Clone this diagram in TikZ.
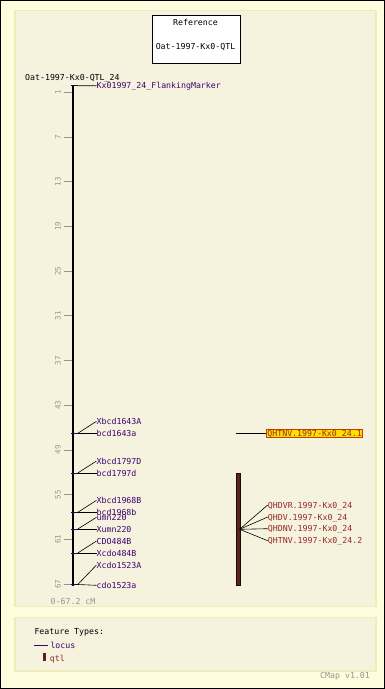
\documentclass[tikz,border=0pt]{standalone}
\usepackage{fontspec}
\newfontfamily\pix{DejaVu Sans Mono}
\definecolor{outerbg}{RGB}{255,253,222}
\definecolor{panelbg}{RGB}{245,243,222}
\definecolor{panelline}{RGB}{240,236,185}
\definecolor{locuscol}{RGB}{64,0,112}
\definecolor{qtlcol}{RGB}{150,40,40}
\definecolor{qtlbar}{RGB}{94,33,33}
\definecolor{tickgray}{RGB}{150,150,140}
\definecolor{hilite}{RGB}{255,225,0}
\definecolor{hiliteline}{RGB}{200,60,0}
\begin{document}
\begin{tikzpicture}[x=1pt,y=-1pt,
  every node/.style={font=\pix\fontsize{8.25}{9}\selectfont, inner sep=0pt, text height=6pt, text depth=0pt},
  panel/.style={fill=panelbg, draw=panelline, line width=1.5pt},
  loclab/.style={anchor=west, text=locuscol},
  qtllab/.style={anchor=west, text=qtlcol},
  axlab/.style={text=tickgray, rotate=90, font=\pix\fontsize{7.5}{9}\selectfont},
  tickline/.style={draw=tickgray, line width=0.8pt},
  mktick/.style={draw=locuscol!60!black, line width=0.8pt},
  conn/.style={draw=black, line width=0.6pt},
  greytext/.style={text=tickgray, anchor=west}]
\useasboundingbox (0,0) rectangle (385,689);
\fill[outerbg] (0,0) rectangle (385,689);
\draw[black, line width=1pt] (0.5,0.5) rectangle (384.5,688.5);
% panels
\draw[panel] (15,10.5) rectangle (376,606.5);
\draw[panel] (15,617.5) rectangle (376,671);
% reference box
\node[draw=black, line width=0.8pt, fill=white, minimum width=88pt, minimum height=48pt, anchor=north west] (refbox) at (151.5,14.5) {};
\node (reftitle) at (195.5,22.5) {Reference};
\node (refname) at (195.5,46) {Oat-1997-Kx0-QTL};
% map title
\node[anchor=west] (maptitle) at (25,77.5) {Oat-1997-Kx0-QTL\_24};
% axis
\coordinate (axtop) at (73.3,86);
\coordinate (axbot) at (73.3,585.5);
\draw[black, line width=2.2pt] (axtop) -- (axbot);
\foreach \v in {1,7,...,67} {
  \pgfmathsetmacro\yy{84.85+\v*7.45}
  \draw[tickline] (63.5,\yy) -- (71.8,\yy);
  \node[axlab] (tk\v) at (57.5,\yy) {\v};
}
\node[greytext] (range) at (50.5,601) {0-67.2 cM};
% markers
\newcommand\mkr[2]{%
  \draw[mktick] (70.5,#2) -- (77.5,#2);
  \coordinate (#1) at (77.8,#2);}
\mkr{m0}{85.8}
\mkr{m1}{433.3}
\mkr{m2}{473}
\mkr{m3}{512.3}
\mkr{m4}{529}
\mkr{m5}{553}
\mkr{m6}{584.5}
\node[loclab] (l0) at (96.5,85.7) {Kx01997\_24\_FlankingMarker};
\node[loclab] (l1a) at (96.5,421.3) {Xbcd1643A};
\node[loclab] (l1b) at (96.5,433.3) {bcd1643a};
\node[loclab] (l2a) at (96.5,461) {Xbcd1797D};
\node[loclab] (l2b) at (96.5,473) {bcd1797d};
\node[loclab] (l3a) at (96.5,500.3) {Xbcd1968B};
\node[loclab] (l3b) at (96.5,512.3) {bcd1968b};
\node[loclab] (l4a) at (96.5,517.3) {umn220};
\node[loclab] (l4b) at (96.5,529) {Xumn220};
\node[loclab] (l5a) at (96.5,541) {CDO484B};
\node[loclab] (l5b) at (96.5,553) {Xcdo484B};
\node[loclab] (l6a) at (96.5,565) {Xcdo1523A};
\node[loclab] (l6b) at (96.5,585.3) {cdo1523a};
\draw[conn] (m0) -- (l0.west);
\foreach \m/\a/\b in {m1/l1a/l1b, m2/l2a/l2b, m3/l3a/l3b, m4/l4a/l4b, m5/l5a/l5b, m6/l6a/l6b} {
  \draw[conn] (\m) -- (\a.west);
  \draw[conn] (\m) -- (\b.west);
}
% highlighted qtl
\coordinate (hq) at (236,433.3);
\node[anchor=west, fill=hilite, draw=hiliteline, line width=0.8pt, text=qtlcol, inner xsep=1pt, inner ysep=1pt] (h1) at (266,433.3) {QHTNV.1997-Kx0\_24.1};
\draw[conn] (hq) -- (h1.west);
% qtl bar
\node[fill=qtlbar, draw=black!70!qtlbar, line width=0.5pt, minimum width=4pt, minimum height=112pt, anchor=north west] (qbar) at (236,473.3) {};
\coordinate (qfan) at (239.6,529.3);
\node[qtllab] (q1) at (267.7,505) {QHDVR.1997-Kx0\_24};
\node[qtllab] (q2) at (267.7,517) {QHDV.1997-Kx0\_24};
\node[qtllab] (q3) at (267.7,528.7) {QHDNV.1997-Kx0\_24};
\node[qtllab] (q4) at (267.7,540.7) {QHTNV.1997-Kx0\_24.2};
\foreach \q in {q1,q2,q3,q4} { \draw[conn] (qfan) -- (\q.west); }
% legend
\node[anchor=west] (ft) at (34.3,631.7) {Feature Types:};
\coordinate (lg1) at (34.3,645);
\coordinate (lg2) at (47.5,645);
\draw[draw=locuscol, line width=0.8pt] (lg1) -- (lg2);
\node[loclab] (lglocus) at (50.3,645) {locus};
\node[fill=qtlbar, minimum width=3pt, minimum height=8pt, anchor=north west] (lgqtl) at (42.3,653) {};
\node[qtllab] (lgqtltext) at (49.7,658.5) {qtl};
\node[anchor=west, text=tickgray] (ver) at (320,675.7) {CMap v1.01};
\end{tikzpicture}
\end{document}
